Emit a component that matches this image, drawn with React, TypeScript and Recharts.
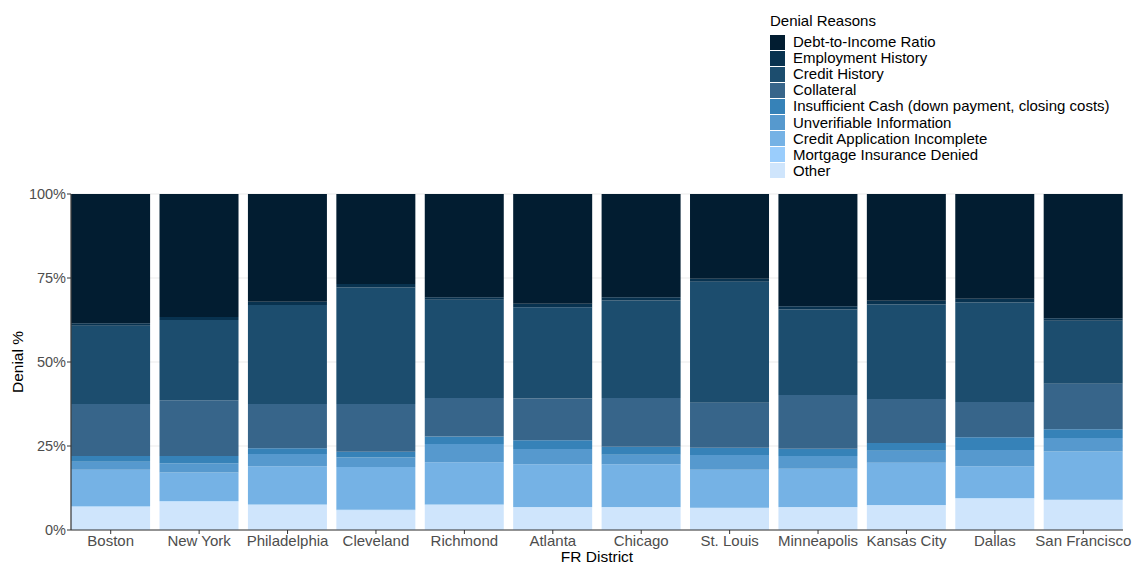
import React from 'react';
import { Bar, BarChart, CartesianGrid, XAxis, YAxis } from 'recharts';

const districts = [
  'Boston', 'New York', 'Philadelphia', 'Cleveland', 'Richmond', 'Atlanta',
  'Chicago', 'St. Louis', 'Minneapolis', 'Kansas City', 'Dallas', 'San Francisco',
];

// share of denials (%) per district, stacked bottom -> top
const other = [6.9, 8.5, 7.5, 5.9, 7.5, 6.75, 6.75, 6.55, 6.75, 7.35, 9.4, 8.9];
const mortgageInsurance = [0.2, 0.1, 0.1, 0.1, 0.1, 0.1, 0.1, 0.1, 0.1, 0.1, 0.1, 0.1];
const appIncomplete = [10.8, 8.5, 11.4, 12.75, 12.6, 12.75, 12.75, 11.25, 11.4, 12.55, 9.5, 14.4];
const unverifiable = [2.4, 2.8, 3.6, 2.85, 5.4, 4.5, 2.8, 4.4, 3.75, 3.6, 4.8, 4.0];
const insufficientCash = [1.7, 2.1, 1.7, 1.7, 2.2, 2.6, 2.4, 2.2, 2.2, 2.3, 3.8, 2.55];
const collateral = [15.5, 16.6, 13.2, 14.2, 11.5, 12.4, 14.5, 13.4, 16.0, 13.1, 10.5, 13.6];
const creditHistory = [23.3, 23.9, 29.5, 34.7, 29.2, 27.2, 29.0, 36.0, 25.4, 28.1, 29.6, 18.75];
const employment = [0.7, 0.9, 0.9, 1.0, 0.8, 1.0, 1.0, 0.9, 1.0, 1.1, 1.1, 0.7];
const debtToIncome = [38.5, 36.6, 32.1, 26.8, 30.7, 32.7, 30.7, 25.2, 33.4, 31.8, 31.2, 37.0];

const yTicks = [0, 0.25, 0.5, 0.75, 1];

const SERIES = [
  { key: 'other', name: 'Other', color: '#cfe5fc', values: other },
  { key: 'mid', name: 'Mortgage Insurance Denied', color: '#9acdfc', values: mortgageInsurance },
  { key: 'cai', name: 'Credit Application Incomplete', color: '#75b2e5', values: appIncomplete },
  { key: 'unv', name: 'Unverifiable Information', color: '#5699ce', values: unverifiable },
  { key: 'cash', name: 'Insufficient Cash (down payment, closing costs)', color: '#3682b8', values: insufficientCash },
  { key: 'coll', name: 'Collateral', color: '#37658a', values: collateral },
  { key: 'ch', name: 'Credit History', color: '#1c4d6e', values: creditHistory },
  { key: 'emp', name: 'Employment History', color: '#08324f', values: employment },
  { key: 'dti', name: 'Debt-to-Income Ratio', color: '#021d31', values: debtToIncome },
];

const data = districts.map((d, i) => {
  const row: Record<string, string | number> = { district: d };
  SERIES.forEach((s) => {
    row[s.key] = s.values[i];
  });
  return row;
});

const FONT = '"Liberation Sans", Arial, sans-serif';

function Legend() {
  return (
    <div style={{ position: 'absolute', left: 770, top: 11, fontFamily: FONT, color: '#000' }}>
      <div style={{ fontSize: 15, height: 23, lineHeight: '20px' }}>Denial Reasons</div>
      {[...SERIES].reverse().map((s) => (
        <div key={s.key} style={{ display: 'flex', alignItems: 'center', height: 16.1 }}>
          <span
            style={{
              display: 'inline-block',
              width: 15,
              height: 15,
              background: s.color,
              marginRight: 8,
            }}
          />
          <span style={{ fontSize: 15, lineHeight: '16px', whiteSpace: 'nowrap' }}>{s.name}</span>
        </div>
      ))}
    </div>
  );
}

export default function App() {
  return (
    <div style={{ position: 'absolute', left: 0, top: 0, width: 1144, height: 572, background: '#fff' }}>
      <BarChart
        width={1144}
        height={572}
        data={data}
        stackOffset="expand"
        barCategoryGap={4.6}
        margin={{ top: 194, right: 21, left: 0, bottom: 12 }}
      >
        <CartesianGrid horizontal vertical={false} stroke="#ebebeb" strokeWidth={1} />
        <XAxis
          dataKey="district"
          padding={{ left: -4.5, right: -4.5 }}
          height={30}
          tickSize={4}
          tickMargin={1}
          interval={0}
          axisLine={{ stroke: '#333333', strokeWidth: 1.2 }}
          tickLine={{ stroke: '#333333' }}
          tick={{ fontSize: 15, fill: '#4d4d4d', fontFamily: FONT }}
        />
        <YAxis
          width={71}
          domain={[0, 1]}
          ticks={yTicks}
          tickFormatter={(v) => `${Math.round(Number(v) * 100)}%`}
          tickSize={4}
          tickMargin={1}
          axisLine={{ stroke: '#333333', strokeWidth: 1.2 }}
          tickLine={{ stroke: '#333333' }}
          tick={{ fontSize: 14.5, fill: '#4d4d4d', fontFamily: FONT }}
        />
        {SERIES.map((s) => (
          <Bar
            key={s.key}
            dataKey={s.key}
            name={s.name}
            stackId="a"
            fill={s.color}
            isAnimationActive={false}
          />
        ))}
      </BarChart>
      <div
        style={{
          position: 'absolute',
          left: 597,
          top: 548,
          transform: 'translateX(-50%)',
          fontFamily: FONT,
          fontSize: 15.5,
          color: '#000',
          whiteSpace: 'nowrap',
        }}
      >
        FR District
      </div>
      <div
        style={{
          position: 'absolute',
          left: 18,
          top: 362,
          transform: 'translate(-50%, -50%) rotate(-90deg)',
          fontFamily: FONT,
          fontSize: 15.5,
          color: '#000',
          whiteSpace: 'nowrap',
        }}
      >
        Denial %
      </div>
      <Legend />
    </div>
  );
}
